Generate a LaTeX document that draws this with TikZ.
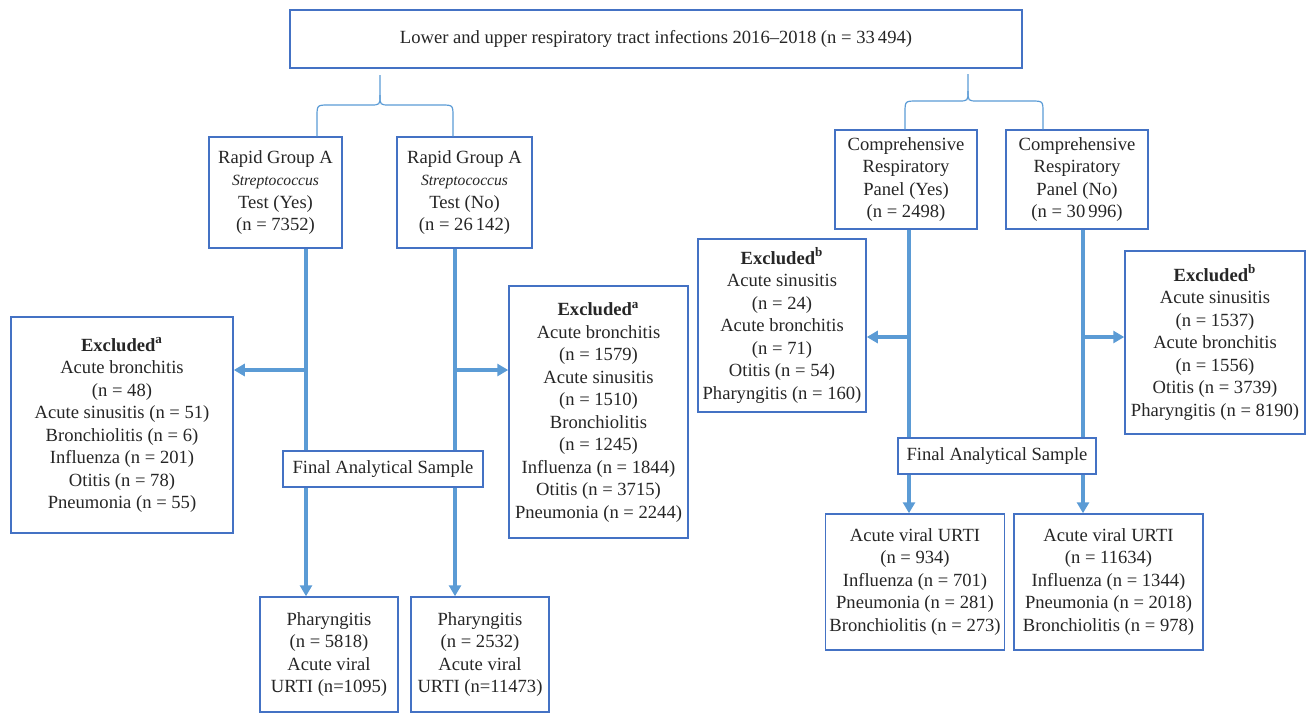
\documentclass[tikz,border=0pt]{standalone}
\usepackage{fontspec}
\setmainfont{Liberation Serif}
\usepackage{xcolor}
\usepackage{tikz}
\usetikzlibrary{arrows.meta}

\definecolor{boxblue}{HTML}{4472C4}
\definecolor{linkblue}{HTML}{5B9BD5}
\definecolor{inkgray}{HTML}{262626}

\newcommand{\strep}{{\fontsize{7.8}{11.25}\selectfont\itshape Streptococcus}}
\newcommand{\excl}[1]{\textbf{Excluded\textsuperscript{#1}}}

\begin{document}
\begin{tikzpicture}[
      x=0.5pt, y=-0.5pt,
      font=\fontsize{9.3}{11.25}\selectfont,
      text=inkgray,
      box/.style={draw=boxblue, line width=0.75pt, fill=white, align=center, inner sep=2pt},
      arr/.style={-{Triangle[width=6pt,length=5.5pt]}, draw=linkblue, line width=1.6pt},
      brace/.style={draw=linkblue, line width=0.6pt}
    ]
    \useasboundingbox (0,0) rectangle (1310,713);

    % Top: all infections
    \node[box, minimum width=366pt, minimum height=29pt] (top) at (656,39)
      {Lower and upper respiratory tract infections 2016--2018 (n = 33\,494)};

    % Left branch: rapid strep test
    \node[box, minimum width=66.5pt, minimum height=55.5pt] (rgay) at (275.5,192.5)
      {Rapid Group A\\\strep\\Test (Yes)\\(n = 7352)};
    \node[box, minimum width=67.5pt, minimum height=55.5pt] (rgan) at (464.5,192.5)
      {Rapid Group A\\\strep\\Test (No)\\(n = 26\,142)};

    % Right branch: respiratory panel
    \node[box, minimum width=71pt, minimum height=49.5pt] (cmpy) at (906,179.5)
      {Comprehensive\\Respiratory\\Panel (Yes)\\(n = 2498)};
    \node[box, minimum width=71pt, minimum height=49.5pt] (cmpn) at (1077,179.5)
      {Comprehensive\\Respiratory\\Panel (No)\\(n = 30\,996)};

    % Exclusions
    \node[box, minimum width=111pt, minimum height=108pt] (exclL) at (122,425)
      {\excl{a}\\Acute bronchitis\\(n = 48)\\Acute sinusitis (n = 51)\\Bronchiolitis (n = 6)\\Influenza (n = 201)\\Otitis (n = 78)\\Pneumonia (n = 55)};
    \node[box, minimum width=89.5pt, minimum height=126pt] (exclM) at (598.5,412)
      {\excl{a}\\Acute bronchitis\\(n = 1579)\\Acute sinusitis\\(n = 1510)\\Bronchiolitis\\(n = 1245)\\Influenza (n = 1844)\\Otitis (n = 3715)\\Pneumonia (n = 2244)};
    \node[box, minimum width=84pt, minimum height=86.5pt] (exclB) at (782,325.5)
      {\excl{b}\\Acute sinusitis\\(n = 24)\\Acute bronchitis\\(n = 71)\\Otitis (n = 54)\\Pharyngitis (n = 160)};
    \node[box, minimum width=90pt, minimum height=91.5pt] (exclR) at (1215,342.5)
      {\excl{b}\\Acute sinusitis\\(n = 1537)\\Acute bronchitis\\(n = 1556)\\Otitis (n = 3739)\\Pharyngitis (n = 8190)};

    % Bottom: outcomes
    \node[box, minimum width=69pt, minimum height=57.5pt] (pharL) at (329,654.5)
      {Pharyngitis\\(n = 5818)\\Acute viral\\URTI (n=1095)};
    \node[box, minimum width=69pt, minimum height=57.5pt] (pharR) at (480,654.5)
      {Pharyngitis\\(n = 2532)\\Acute viral\\URTI (n=11473)};
    \node[box, minimum width=88pt, minimum height=68pt] (urtiL) at (915,582)
      {Acute viral URTI\\(n = 934)\\Influenza (n = 701)\\Pneumonia (n = 281)\\Bronchiolitis (n = 273)};
    \node[box, minimum width=94.5pt, minimum height=68pt] (urtiR) at (1108.5,582)
      {Acute viral URTI\\(n = 11634)\\Influenza (n = 1344)\\Pneumonia (n = 2018)\\Bronchiolitis (n = 978)};

    % Braces under the top box
    \draw[brace] (rgay.north -| 317,0) -- (317,117) .. controls (317,105) .. (329,105) -- (370,105)
      .. controls (380,105) .. (380,95) -- (380,75);
    \draw[brace] (rgan.north -| 453,0) -- (453,117) .. controls (453,105) .. (441,105) -- (390,105)
      .. controls (380,105) .. (380,95);
    \draw[brace] (cmpy.north -| 905,0) -- (905,113) .. controls (905,101) .. (917,101) -- (958,101)
      .. controls (968,101) .. (968,91) -- (968,74);
    \draw[brace] (cmpn.north -| 1043,0) -- (1043,113) .. controls (1043,101) .. (1031,101) -- (978,101)
      .. controls (968,101) .. (968,91);

    % Junctions where the exclusions branch off
    \coordinate (jL) at (306,370);
    \coordinate (jM) at (455,370);
    \coordinate (jB) at (909,337);
    \coordinate (jR) at (1083,337);

    \draw[arr] (rgay.south -| jL) -- (pharL.north -| jL);
    \draw[arr] (rgan.south -| jM) -- (pharR.north -| jM);
    \draw[arr] (cmpy.south -| jB) -- (urtiL.north -| jB);
    \draw[arr] (cmpn.south -| jR) -- (urtiR.north -| jR);

    \draw[arr] (jL) -- (jL -| exclL.east);
    \draw[arr] (jM) -- (jM -| exclM.west);
    \draw[arr] (jB) -- (jB -| exclB.east);
    \draw[arr] (jR) -- (jR -| exclR.west);

    % Final sample boxes sit on top of the lines
    \node[box, minimum width=100pt, minimum height=18pt] (finL) at (383,469) {Final Analytical Sample};
    \node[box, minimum width=99pt, minimum height=18pt] (finR) at (997,456) {Final Analytical Sample};
  \end{tikzpicture}
\end{document}
